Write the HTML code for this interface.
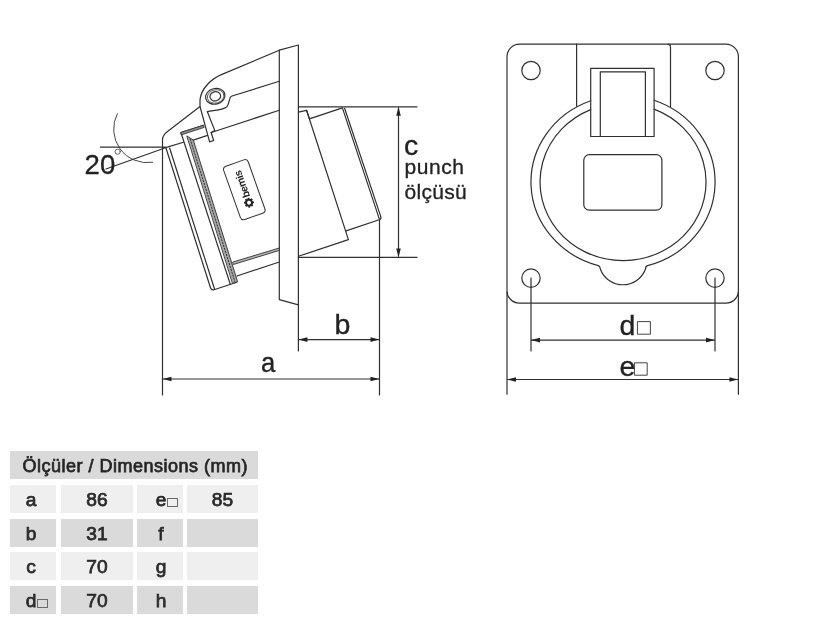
<!DOCTYPE html>
<html><head><meta charset="utf-8">
<style>
html,body{margin:0;padding:0;background:#fff;}
body{width:825px;height:625px;overflow:hidden;position:relative;font-family:"Liberation Sans",sans-serif;}
svg{position:absolute;left:0;top:0;}
body{filter:grayscale(1);}
.t{position:absolute;margin-top:1px;color:#2b2b2b;font-weight:normal;-webkit-text-stroke:0.75px #2b2b2b;font-size:19.2px;line-height:28px;text-align:center;white-space:nowrap;}
.c{position:absolute;height:28px;}
.d{background:#dadada;}
.l{background:#efefef;}
</style></head><body>
<svg width="825" height="625" viewBox="0 0 825 625" font-family="Liberation Sans, sans-serif">
<g fill="none" stroke="#303030" stroke-width="1.2" stroke-linecap="round" stroke-linejoin="round">
<!-- SIDE VIEW -->
<!-- plate -->
<path d="M279.3,50.2 L298.4,45 M279.3,50.2 V299.6 L298.4,304.8 M298.4,45 V351"/>
<!-- lid -->
<path d="M279.3,50.2 L222,74.4 C212,78.5 201,88 200,100 L200,106.5 L167.5,131.5 Q162.5,135.2 162.5,140 V395"/>
<path d="M279.3,81.2 L231.3,96.3 C228.8,97.5 230,102.5 227,106.6 C224,110 214,110.3 207.4,111.7"/>
<!-- strap -->
<path d="M200,106.5 L209.6,141.9 L213.7,140.5 L211.1,132.5 L214.8,130.6 L207.4,111.7"/>
<!-- hinge -->
<ellipse cx="215.3" cy="96.3" rx="9.8" ry="7.8" transform="rotate(-15 215.3 96.3)"/>
<ellipse cx="215.6" cy="96.5" rx="8.4" ry="6.6" transform="rotate(-15 215.3 96.3)" stroke-width="0.7"/>
<ellipse cx="215.3" cy="96.3" rx="5.4" ry="4.6" transform="rotate(-15 215.3 96.3)"/>
<!-- body top line -->
<path d="M211.3,132.5 L279.3,110.2 M193.3,140.1 L207.5,135.4 M165.6,147.6 L183.5,142.2"/>
<!-- body -->
<path d="M165.9,147.7 L210.5,287.8 Q211.4,290.6 214,289.8 L236.8,282.2"/>
<path d="M169.6,148 L214.6,289.2"/>
<path d="M180.9,132.5 L230.3,284.3 M180.9,132.5 L203.5,125.2"/>
<!-- hatch bands -->
<path d="M187.1,136.1 L193.3,140.1 L237.6,281.8 L232.9,283.4 Z" fill="#a8a8a8" stroke-width="0.9"/>
<path d="M190,138.6 L235.2,282.6" stroke-width="1" stroke-dasharray="2.2 0.9" stroke-linecap="butt"/>
<path d="M180.9,132.5 L203.5,125.2 L204.2,127.4 L181.7,134.8 Z" fill="#8c8c8c" stroke-width="0.8"/>
<!-- lower struts -->
<path d="M233,262 L279.3,248 L279.3,250.4 L233.7,264.4 Z" fill="#b5b5b5" stroke-width="0.9"/>
<path d="M237,276 L279.3,262"/>
<!-- label -->
<rect x="231.3" y="161.4" width="26" height="56.6" rx="3.5" transform="rotate(-19.5 244.3 189.7)" stroke-width="1"/>
<!-- back body -->
<path d="M298.4,112.2 L306.6,110.3 L348.4,239.6 L298.4,256.3"/>
<path d="M306.6,110.3 L309.4,118.9 L342.4,107.9 L379.2,218.6 M344.6,108.3 L380.8,216.6 Q381.5,219 379.2,219.7 L346.1,230.9"/>
<!-- ref / angle -->
<path d="M100.4,147.2 H165.5 M165.5,147.8 L106,169"/>
<path d="M117.3,113.7 A33.7,33.7 0 0 0 152.7,162.3" stroke-width="0.9"/>
<circle cx="117.7" cy="151.7" r="2.6" stroke="#555" stroke-width="0.9"/>
<!-- dims c -->
<path d="M298.4,106.8 H417 M298.4,257.4 H417 M398.5,108 V256"/>
<!-- dims a,b -->
<path d="M379.5,219.7 V395 M298.4,339.6 H379.5 M162.5,379 H379.5"/>
<!-- FRONT VIEW -->
<rect x="507" y="44.2" width="231.4" height="259" rx="12.5"/>
<circle cx="531" cy="70.5" r="9.2"/><circle cx="715" cy="70.5" r="9.2"/>
<circle cx="531" cy="278.1" r="9.2"/><circle cx="715" cy="278.1" r="9.2"/>
<path d="M576.6,44 V106.2 M670.5,47 V106.4 M670.5,47 Q670.4,44.6 668.2,44.2"/>
<rect x="590.7" y="68.4" width="63.4" height="68.1"/>
<path d="M600.3,136.5 V71.8 H645.4 V136.5"/>
<path d="M590.7,100.7 A92,86.8 0 0 0 598.3,265.6 Q600.2,266.2 600.3,269 A24.1,24.1 0 0 0 645.5,269 Q645.6,266.2 647.5,265.7 A92,86.8 0 0 0 654.1,100.3"/>
<path d="M590.7,109.6 A83,78.6 0 1 0 654.1,109.1"/>
<rect x="583.8" y="154.7" width="78.1" height="55.5" rx="5.5"/>
<!-- dims d,e -->
<path d="M531,278.1 V351 M715,278.1 V351 M531,340.1 H715"/>
<path d="M507,292 V394.2 M738.4,292 V394.2 M507,379.5 H738.4"/>
<rect x="637.8" y="321.6" width="12.6" height="12.6" stroke-width="1" stroke="#444"/>
<rect x="634.8" y="362.8" width="12.4" height="12.4" stroke-width="1" stroke="#444"/>
</g>
<!-- arrowheads -->
<g fill="#222" stroke="none">
<path d="M398.5,107 l-2.3,8.8 h4.6z M398.5,257.2 l-2.3,-8.8 h4.6z"/>
<path d="M298.6,339.6 l8.8,-2.3 v4.6z M379.3,339.6 l-8.8,-2.3 v4.6z"/>
<path d="M162.7,379 l8.8,-2.3 v4.6z M379.3,379 l-8.8,-2.3 v4.6z"/>
<path d="M531.2,340.1 l8.8,-2.3 v4.6z M714.8,340.1 l-8.8,-2.3 v4.6z"/>
<path d="M507.2,379.5 l8.8,-2.3 v4.6z M738.2,379.5 l-8.8,-2.3 v4.6z"/>
</g>
<!-- texts -->
<g fill="#222" stroke="#222" stroke-width="0.35" stroke-linejoin="round">
<text x="84.6" y="173.8" font-size="27.6" stroke-width="0.3">20</text>
<text x="404" y="155" font-size="28.5">c</text>
<text x="404.5" y="174.4" font-size="21" letter-spacing="0.55" stroke-width="0.3">punch</text>
<text x="404.5" y="199.3" font-size="21" letter-spacing="0.3" stroke-width="0.3">ölçüsü</text>
<text x="334.5" y="333.6" font-size="28.5">b</text>
<text transform="translate(261,372.3) scale(0.9,1)" font-size="28.5">a</text>
<text x="619.5" y="334.5" font-size="28.5">d</text>
<text x="619.5" y="376.2" font-size="28.5">e</text>
<g transform="translate(249,202.7) rotate(-109.5)">
<circle cx="0" cy="0" r="3" fill="none" stroke="#222" stroke-width="2"/>
<circle cx="0" cy="0" r="4.3" fill="none" stroke="#222" stroke-width="1.3" stroke-dasharray="1.7 1.68"/>
<text x="5.6" y="3.2" font-size="10.5" font-weight="bold" letter-spacing="-0.45" stroke="none">bemis</text>
</g>
</g>
</svg>
<!-- TABLE -->
<div class="c d" style="left:10px;top:451.2px;width:248.3px;height:28px"></div>
<div class="t" style="left:11px;top:450.7px;width:248.3px;font-size:18px;letter-spacing:0.5px;color:#222">Ölçüler / Dimensions (mm)</div>

<div class="c l" style="left:10px;top:485px;width:46px"></div>
<div class="c l" style="left:61px;top:485px;width:72px"></div>
<div class="c l" style="left:137.3px;top:485px;width:45.4px"></div>
<div class="c l" style="left:186.7px;top:485px;width:71.6px"></div>

<div class="c d" style="left:10px;top:518.8px;width:46px"></div>
<div class="c d" style="left:61px;top:518.8px;width:72px"></div>
<div class="c d" style="left:137.3px;top:518.8px;width:45.4px"></div>
<div class="c d" style="left:186.7px;top:518.8px;width:71.6px"></div>

<div class="c l" style="left:10px;top:552.3px;width:46px"></div>
<div class="c l" style="left:61px;top:552.3px;width:72px"></div>
<div class="c l" style="left:137.3px;top:552.3px;width:45.4px"></div>
<div class="c l" style="left:186.7px;top:552.3px;width:71.6px"></div>

<div class="c d" style="left:10px;top:586px;width:46px"></div>
<div class="c d" style="left:61px;top:586px;width:72px"></div>
<div class="c d" style="left:137.3px;top:586px;width:45.4px"></div>
<div class="c d" style="left:186.7px;top:586px;width:71.6px"></div>

<div class="t" style="left:21px;top:485px;width:20px">a</div>
<div class="t" style="left:61px;top:485px;width:72px">86</div>
<div class="t" style="left:151px;top:485px;width:20px">e</div>
<div class="t" style="left:186.7px;top:485px;width:71.6px">85</div>
<div class="t" style="left:21px;top:518.8px;width:20px">b</div>
<div class="t" style="left:61px;top:518.8px;width:72px">31</div>
<div class="t" style="left:151px;top:518.8px;width:20px">f</div>
<div class="t" style="left:21px;top:552.3px;width:20px">c</div>
<div class="t" style="left:61px;top:552.3px;width:72px">70</div>
<div class="t" style="left:151px;top:552.3px;width:20px">g</div>
<div class="t" style="left:21px;top:586px;width:20px">d</div>
<div class="t" style="left:61px;top:586px;width:72px">70</div>
<div class="t" style="left:151px;top:586px;width:20px">h</div>
<div style="position:absolute;left:167.2px;top:498.3px;width:8.4px;height:7.2px;border:1px solid #6a6a6a"></div>
<div style="position:absolute;left:37.3px;top:599.3px;width:8.4px;height:7.2px;border:1px solid #6a6a6a"></div>
</body></html>
